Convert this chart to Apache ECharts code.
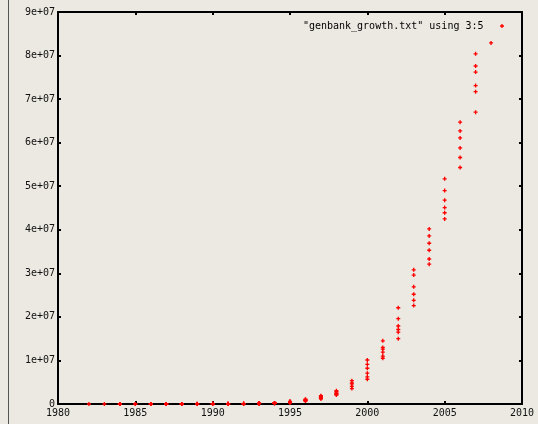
<!DOCTYPE html>
<html>
<head>
<meta charset="utf-8">
<style>
  html, body { margin: 0; padding: 0; background: #ece9e2; }
  #chart { width: 538px; height: 424px; }
</style>
<script src="https://cdn.jsdelivr.net/npm/echarts@6/dist/echarts.min.js"></script>
</head>
<body>
<div id="chart"></div>
<script>
// ---- data (year of release, number of sequences) ----
const releaseYear = [
  1982,
  1983,
  1984, 1984, 1984, 1984,
  1985, 1985,
  1986, 1986, 1986, 1986,
  1987, 1987, 1987, 1987, 1987,
  1988, 1988, 1988, 1988, 1988,
  1989, 1989, 1989, 1989,
  1990, 1990, 1990, 1990,
  1991, 1991, 1991, 1991,
  1992, 1992, 1992, 1992,
  1993, 1993, 1993, 1993, 1993, 1993,
  1994, 1994, 1994, 1994, 1994, 1994,
  1995, 1995, 1995, 1995, 1995, 1995,
  1996, 1996, 1996, 1996, 1996, 1996,
  1997, 1997, 1997, 1997, 1997, 1997,
  1998, 1998, 1998, 1998, 1998, 1998,
  1999, 1999, 1999, 1999, 1999,
  2000, 2000, 2000, 2000, 2000, 2000,
  2001, 2001, 2001, 2001, 2001, 2001,
  2002, 2002, 2002, 2002, 2002, 2002,
  2003, 2003, 2003, 2003, 2003, 2003,
  2004, 2004, 2004, 2004, 2004, 2004,
  2005, 2005, 2005, 2005, 2005, 2005,
  2006, 2006, 2006, 2006, 2006, 2006,
  2007, 2007, 2007, 2007, 2007, 2007,
  2008
];
const sequenceCount = [
  600,
  2400,
  3700, 4100, 4200, 4400,
  5000, 5700,
  6600, 7400, 8800, 10000,
  11000, 12500, 14000, 14600, 15500,
  17000, 18200, 19000, 20600, 21200,
  22500, 26300, 28800, 31200,
  33400, 35100, 39500, 41100,
  43900, 51400, 55600, 59000,
  65100, 71300, 78600, 97100,
  107000, 112000, 120000, 131000, 143000, 151000,
  163000, 170000, 183000, 197000, 215000, 238000,
  270000, 350000, 425000, 490000, 555000, 620000,
  690000, 760000, 830000, 920000, 1020000, 1110000,
  1190000, 1270000, 1490000, 1610000, 1770000, 1890000,
  2040000, 2210000, 2360000, 2530000, 2840000, 3040000,
  3530000, 4030000, 4610000, 4860000, 5350000,
  5690000, 6220000, 7080000, 8210000, 9100000, 10110000,
  10500000, 11000000, 11900000, 12600000, 13000000, 14500000,
  15000000, 16500000, 17100000, 17900000, 19600000, 22100000,
  22600000, 23800000, 25200000, 26900000, 29600000, 30800000,
  32100000, 33300000, 35300000, 36900000, 38600000, 40200000,
  42500000, 43900000, 45100000, 46800000, 49000000, 51700000,
  54300000, 56600000, 58800000, 61100000, 62700000, 64700000,
  67000000, 71700000, 73100000, 76200000, 77600000, 80400000,
  82900000
];
const seriesName = '"genbank_growth.txt" using 3:5';
const xTicks = { min: 1980, max: 2010, step: 5 };
const yTicks = { min: 0, max: 90000000, step: 10000000 };

// ---- chart ----
const points = releaseYear.map((y, i) => [y, sequenceCount[i]]);
const plus = 'path://M1,0H2V1H3V2H2V3H1V2H0V1H1Z';
const FONT = 'DejaVu Sans Mono';

function yFmt(v) {
  if (v === 0) return '0';
  return (v / 1e7) + 'e+07';
}

const axisLine = { show: true, onZero: false, lineStyle: { color: '#000', width: 2 } };
const axisTick = { show: true, inside: true, length: 3, lineStyle: { color: '#000', width: 2 } };

const chart = echarts.init(document.getElementById('chart'), null, { renderer: 'canvas' });
chart.setOption({
  backgroundColor: '#ece9e2',
  animation: false,
  grid: { left: 58, right: 16, top: 12, bottom: 20, containLabel: false },
  graphic: [
    { type: 'line', shape: { x1: 8.5, y1: 0, x2: 8.5, y2: 424 }, style: { stroke: '#555', lineWidth: 1 } }
  ],
  legend: {
    right: 29, top: 16,
    align: 'right',
    itemWidth: 27, itemHeight: 4,
    icon: plus,
    textStyle: { fontFamily: FONT, fontSize: 10, color: '#000' },
    data: [seriesName]
  },
  xAxis: [
    {
      type: 'value', position: 'bottom',
      min: xTicks.min, max: xTicks.max, interval: xTicks.step,
      axisLine, axisTick,
      splitLine: { show: false },
      axisLabel: { fontFamily: FONT, fontSize: 10, color: '#111', margin: 4, formatter: v => String(v) }
    },
    {
      type: 'value', position: 'top',
      min: xTicks.min, max: xTicks.max, interval: xTicks.step,
      axisLine, axisTick,
      splitLine: { show: false },
      axisLabel: { show: false }
    }
  ],
  yAxis: [
    {
      type: 'value', position: 'left',
      min: yTicks.min, max: yTicks.max, interval: yTicks.step,
      axisLine, axisTick,
      splitLine: { show: false },
      axisLabel: { fontFamily: FONT, fontSize: 10, color: '#111', margin: 3, formatter: yFmt }
    },
    {
      type: 'value', position: 'right',
      min: yTicks.min, max: yTicks.max, interval: yTicks.step,
      axisLine, axisTick,
      splitLine: { show: false },
      axisLabel: { show: false }
    }
  ],
  series: [
    {
      name: seriesName,
      type: 'scatter',
      xAxisIndex: 0, yAxisIndex: 0,
      symbol: plus,
      symbolSize: 4,
      itemStyle: { color: '#ff0000', opacity: 1 },
      data: points,
      clip: false
    }
  ]
});
</script>
</body>
</html>
